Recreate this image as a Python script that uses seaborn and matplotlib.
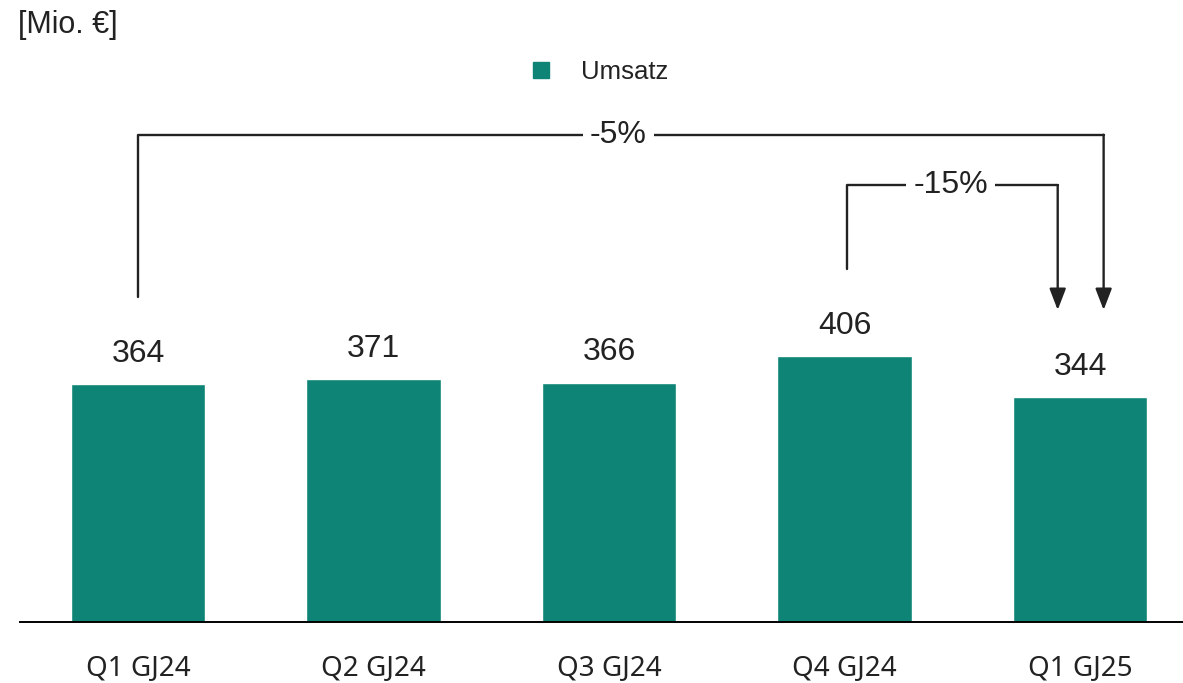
import matplotlib
matplotlib.use("Agg")
import matplotlib.pyplot as plt
import seaborn as sns
import pandas as pd
from matplotlib.lines import Line2D

sns.set_style("white")
plt.rcParams["font.family"] = ["Liberation Sans", "DejaVu Sans"]

# data
quarters = ["Q1 GJ24", "Q2 GJ24", "Q3 GJ24", "Q4 GJ24", "Q1 GJ25"]
umsatz = [364, 371, 366, 406, 344]
changes = ["-5%", "-15%"]

teal = "#0e8476"
ink = "#222222"

df = pd.DataFrame({"Quartal": quarters, "Umsatz": umsatz})

fig = plt.figure(figsize=(11.83, 6.83), dpi=100)
ax = fig.add_axes([20 / 1183, 61 / 683, 1 - 20 / 1183, 1 - 61 / 683])

sns.barplot(data=df, x="Quartal", y="Umsatz", color=teal, width=0.57,
            saturation=1, ax=ax)

ax.set_xlim(-0.501, 4.437)
ax.set_ylim(0, 951)
ax.set_xlabel("")
ax.set_ylabel("")
ax.set_yticks([])
for s in ["top", "right", "left"]:
    ax.spines[s].set_visible(False)
ax.spines["bottom"].set_color("black")
ax.spines["bottom"].set_linewidth(1.4)
ax.tick_params(axis="x", length=0, pad=39)
for lab in ax.get_xticklabels():
    lab.set_fontfamily(["Noto Sans", "DejaVu Sans"])
    lab.set_fontsize(20)
    lab.set_color(ink)
    lab.set_verticalalignment("baseline")

# value labels
for i, v in enumerate(umsatz):
    ax.text(i, v + 34, str(v), ha="center", va="baseline", fontsize=23, color=ink)

# brackets
gap = 133
lw = 1.7
arrow = dict(arrowstyle="-|>,head_length=1.3,head_width=0.5", color=ink,
             lw=lw, shrinkA=0, shrinkB=0)

# -5%: Q1 GJ24 -> Q1 GJ25
y5 = 745
x_l, x_r = 0, 4.10
ax.plot([x_l, x_l, x_r], [umsatz[0] + gap, y5, y5], color=ink, lw=lw)
ax.annotate("", xy=(x_r, umsatz[4] + gap), xytext=(x_r, y5), arrowprops=arrow)
ax.text(2.04, y5, changes[0], ha="center", va="center", fontsize=23, color=ink,
        bbox=dict(facecolor="white", edgecolor="none", pad=5))

# -15%: Q4 GJ24 -> Q1 GJ25
y15 = 668
x_l, x_r = 3.01, 3.905
ax.plot([x_l, x_l, x_r], [umsatz[3] + gap, y15, y15], color=ink, lw=lw)
ax.annotate("", xy=(x_r, umsatz[4] + gap), xytext=(x_r, y15), arrowprops=arrow)
ax.text(3.45, y15, changes[1], ha="center", va="center", fontsize=23, color=ink,
        bbox=dict(facecolor="white", edgecolor="none", pad=5))

# unit label and legend
fig.text(18 / 1183, 1 - 25 / 683, "[Mio. €]", ha="left", va="center",
         fontsize=22, color=ink)
handle = Line2D([], [], marker="s", color="none", markerfacecolor=teal,
                markeredgecolor=teal, markersize=11.5)
fig.legend([handle], ["Umsatz"], loc="center", bbox_to_anchor=(592 / 1183, 1 - 72 / 683),
           frameon=False, fontsize=18.5, handletextpad=0.55, labelcolor=ink)

fig.savefig("out.png", dpi=100)
